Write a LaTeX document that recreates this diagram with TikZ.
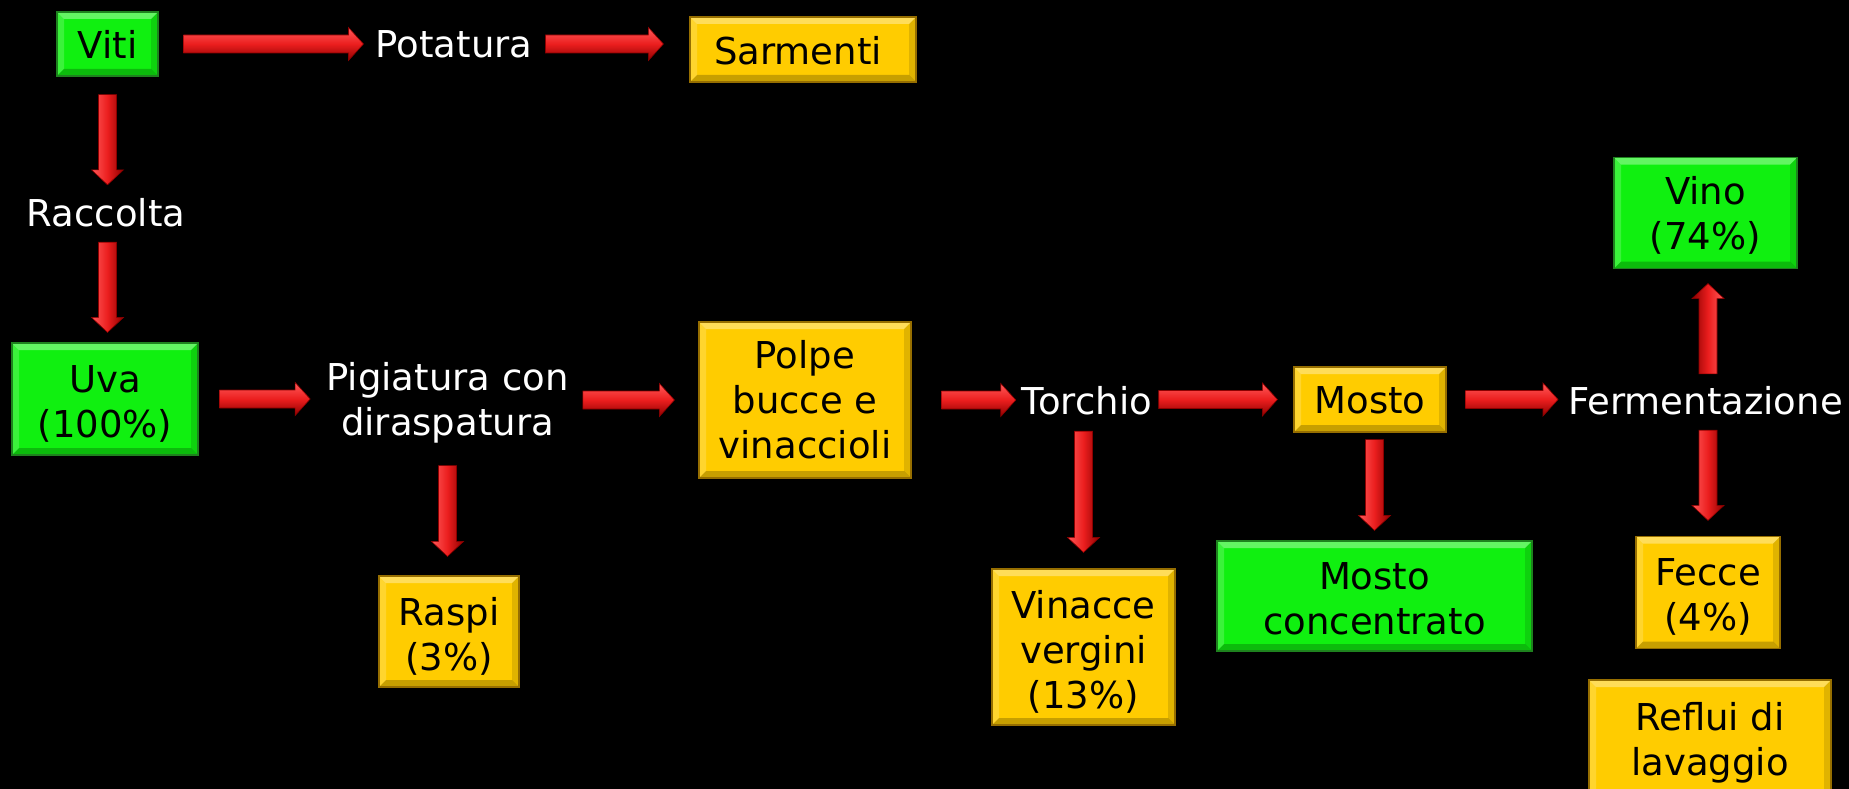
\documentclass[tikz,border=0pt]{standalone}
\usepackage{fontspec}
\setmainfont{DejaVu Sans}
\usetikzlibrary{calc}
\definecolor{gfill}{RGB}{16,240,16}
\definecolor{gline}{RGB}{30,130,30}
\definecolor{yfill}{RGB}{255,204,0}
\definecolor{yline}{RGB}{150,110,0}
\definecolor{alight}{RGB}{255,90,90}
\definecolor{amid}{RGB}{235,30,30}
\definecolor{adark}{RGB}{140,0,0}
\tikzset{
 bevel/.style={path picture={
   \fill[white,opacity=0.35] (path picture bounding box.north west) -- (path picture bounding box.north east) -- ([xshift=-7pt,yshift=-7pt]path picture bounding box.north east) -- ([xshift=7pt,yshift=-7pt]path picture bounding box.north west) -- cycle;
   \fill[white,opacity=0.18] (path picture bounding box.north west) -- ([xshift=7pt,yshift=-7pt]path picture bounding box.north west) -- ([xshift=7pt,yshift=7pt]path picture bounding box.south west) -- (path picture bounding box.south west) -- cycle;
   \fill[black,opacity=0.22] (path picture bounding box.south west) -- ([xshift=7pt,yshift=7pt]path picture bounding box.south west) -- ([xshift=-7pt,yshift=7pt]path picture bounding box.south east) -- (path picture bounding box.south east) -- cycle;
   \fill[black,opacity=0.12] (path picture bounding box.north east) -- ([xshift=-7pt,yshift=-7pt]path picture bounding box.north east) -- ([xshift=-7pt,yshift=7pt]path picture bounding box.south east) -- (path picture bounding box.south east) -- cycle;
 }},
 gbox/.style={draw=gline, line width=1.2pt, fill=gfill, bevel, inner sep=0pt},
 ybox/.style={draw=yline, line width=1.2pt, fill=yfill, bevel, inner sep=0pt},
 boxtxt/.style={text=black, align=center, inner sep=0pt},
 lbl/.style={text=white, align=center, inner sep=0pt},
 lbl1/.style={lbl, text height=27pt, text depth=0pt},
 harrow/.style={top color=alight, bottom color=adark, middle color=amid, draw=adark, line width=0.6pt},
 darrow/.style={left color=alight, right color=adark, middle color=amid, draw=adark, line width=0.6pt},
 uarrow/.style={left color=adark, right color=alight, middle color=amid, draw=adark, line width=0.6pt},
}
% box: style, name, position, width, height, text offset, text
\newcommand\bx[7]{\node[#1, minimum width=#4, minimum height=#5] (#2) at (#3) {};
 \node[boxtxt] (#2t) at ([shift={(#6)}]#2.center) {#7};}
% horizontal arrow: from A.east+gA to B.west-gB, y of node Y
\newcommand\harr[5]{\shade[harrow] let \p1=(#1.east), \p2=(#2.west), \p3=(#5.center) in
 ({\x1+#3}, {\y3+9pt}) -- ({\x2-#4-15pt}, {\y3+9pt}) -- ({\x2-#4-15pt}, {\y3+16.5pt}) -- ({\x2-#4}, \y3) -- ({\x2-#4-15pt}, {\y3-16.5pt}) -- ({\x2-#4-15pt}, {\y3-9pt}) -- ({\x1+#3}, {\y3-9pt}) -- cycle;}
% downward arrow: from A.south-gA to B.north+gB, x of node X
\newcommand\darr[5]{\shade[darrow] let \p1=(#1.south), \p2=(#2.north), \p3=(#5.center) in
 ({\x3-9pt}, {\y1-#3}) -- ({\x3-9pt}, {\y2+#4+15pt}) -- ({\x3-16pt}, {\y2+#4+15pt}) -- (\x3, {\y2+#4}) -- ({\x3+16pt}, {\y2+#4+15pt}) -- ({\x3+9pt}, {\y2+#4+15pt}) -- ({\x3+9pt}, {\y1-#3}) -- cycle;}
% upward arrow: from A.north+gA to B.south-gB, x of node X
\newcommand\uarr[5]{\shade[uarrow] let \p1=(#1.north), \p2=(#2.south), \p3=(#5.center) in
 ({\x3-9pt}, {\y1+#3}) -- ({\x3-9pt}, {\y2-#4-15pt}) -- ({\x3-16pt}, {\y2-#4-15pt}) -- (\x3, {\y2-#4}) -- ({\x3+16pt}, {\y2-#4-15pt}) -- ({\x3+9pt}, {\y2-#4-15pt}) -- ({\x3+9pt}, {\y1+#3}) -- cycle;}
\begin{document}
\begin{tikzpicture}[x=1pt, y=1pt, font=\fontsize{37}{45}\selectfont]
\useasboundingbox (0,0) rectangle (1849,-789);
\clip (0,0) rectangle (1849,-789);
\fill[black] (0,0) rectangle (1849,-789);

\bx{gbox}{viti}{107.5,-44}{101pt}{64pt}{0,-0.5}{Viti}
\node[lbl1] (pot) at (454,-44) {Potatura};
\bx{ybox}{sarm}{803,-49.5}{226pt}{65pt}{-5,-1}{Sarmenti}
\node[lbl1] (racc) at (106,-213) {Raccolta};
\bx{gbox}{uva}{105,-399}{186pt}{112pt}{0,-4.5}{Uva\\(100\%)}
\node[lbl] (pig) at (447.5,-403) {Pigiatura con\\diraspatura};
\bx{ybox}{polpe}{805,-400}{212pt}{156pt}{0,0}{Polpe\\bucce e\\vinaccioli}
\node[lbl1] (torc) at (1087,-401) {Torchio};
\bx{ybox}{mosto}{1370,-399.5}{152pt}{65pt}{0,-1}{Mosto}
\node[lbl1] (ferm) at (1705.5,-401) {Fermentazione};
\bx{gbox}{vino}{1705.5,-213}{183pt}{111pt}{0,-2.5}{Vino\\(74\%)}
\bx{ybox}{raspi}{449,-631.5}{140pt}{111pt}{0,-5}{Raspi\\(3\%)}
\bx{ybox}{vinac}{1083.5,-647}{183pt}{156pt}{0,-4.5}{Vinacce\\vergini\\(13\%)}
\bx{gbox}{mconc}{1374.5,-596}{315pt}{110pt}{0,-2.5}{Mosto\\concentrato}
\bx{ybox}{fecce}{1708,-592.5}{144pt}{112pt}{0,-4.5}{Fecce\\(4\%)}
\bx{ybox}{reflui}{1710,-740}{242pt}{120pt}{0,-3}{Reflui di\\lavaggio}

\harr{viti}{pot}{25pt}{12pt}{viti}
\harr{pot}{sarm}{13pt}{26pt}{pot}
\harr{uva}{pig}{21pt}{16pt}{uva}
\harr{pig}{polpe}{14pt}{24pt}{polpe}
\harr{polpe}{torc}{30pt}{6pt}{polpe}
\harr{torc}{mosto}{6.5pt}{16pt}{mosto}
\harr{mosto}{ferm}{19pt}{10pt}{mosto}

\darr{viti}{racc}{18pt}{14.5pt}{viti}
\darr{racc}{uva}{15.5pt}{10pt}{viti}
\darr{pig}{raspi}{22pt}{19pt}{pig}
\darr{torc}{vinac}{16.5pt}{16pt}{vinac}
\darr{mosto}{mconc}{7pt}{10pt}{mconc}
\darr{ferm}{fecce}{15.5pt}{15.5pt}{fecce}
\uarr{ferm}{vino}{13.5pt}{14.5pt}{fecce}
\end{tikzpicture}
\end{document}
